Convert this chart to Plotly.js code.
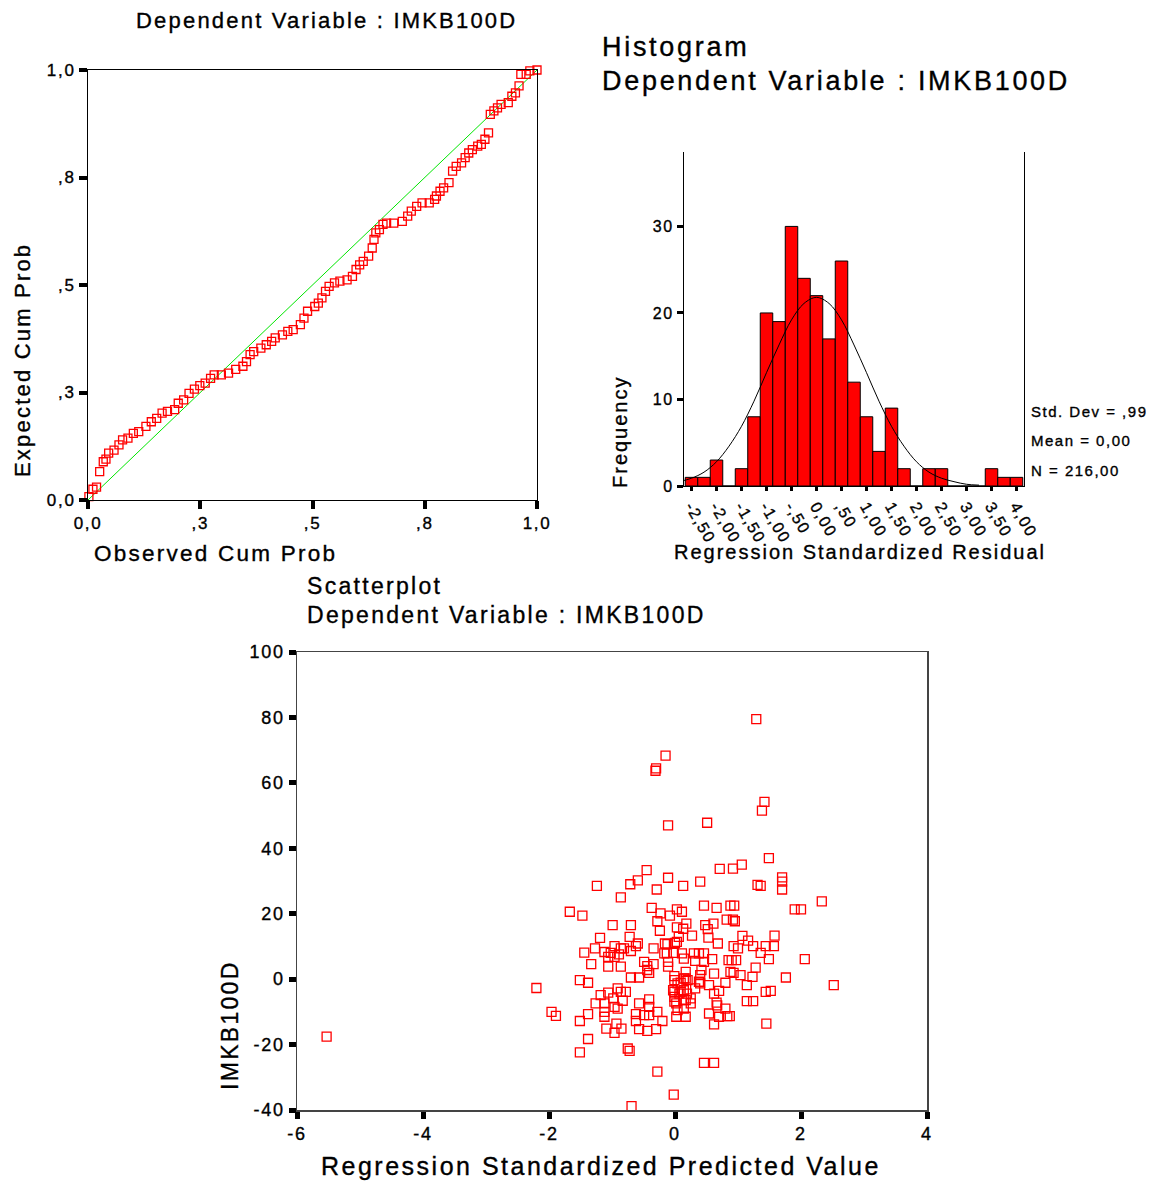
<!DOCTYPE html>
<html><head><meta charset="utf-8">
<script src="https://cdn.plot.ly/plotly-3.0.1.min.js"></script>
<style>
html,body{margin:0;padding:0;background:#fff;}
text{letter-spacing:0.1em; stroke:#000; stroke-width:0.35px;}
</style></head><body>
<div id="chart" style="width:1154px;height:1185px;"></div>
<script>
// ---- Normal P-P plot data ----
const ppObserved = [0.002,0.011,0.019,0.026,0.034,0.040,0.046,0.058,0.069,0.077,0.089,0.101,0.113,0.129,0.141,0.153,0.165,0.177,0.193,0.201,0.213,0.225,0.237,0.249,0.261,0.273,0.281,0.297,0.313,0.329,0.345,0.353,0.361,0.369,0.385,0.397,0.409,0.417,0.433,0.445,0.457,0.473,0.481,0.489,0.505,0.513,0.521,0.529,0.537,0.549,0.561,0.577,0.589,0.597,0.605,0.613,0.625,0.633,0.637,0.641,0.649,0.657,0.665,0.681,0.700,0.712,0.720,0.732,0.744,0.760,0.772,0.776,0.784,0.792,0.804,0.812,0.820,0.832,0.840,0.848,0.856,0.868,0.876,0.884,0.892,0.896,0.904,0.912,0.920,0.936,0.944,0.952,0.960,0.964,0.976,0.984,1.0];
const ppExpected = [0.008,0.025,0.030,0.066,0.089,0.095,0.109,0.116,0.128,0.140,0.144,0.155,0.159,0.171,0.182,0.190,0.202,0.206,0.210,0.225,0.233,0.248,0.258,0.266,0.272,0.283,0.291,0.291,0.295,0.304,0.311,0.322,0.338,0.345,0.353,0.361,0.369,0.377,0.384,0.392,0.396,0.408,0.423,0.439,0.450,0.458,0.470,0.485,0.497,0.505,0.509,0.512,0.520,0.536,0.547,0.555,0.567,0.586,0.606,0.621,0.629,0.641,0.644,0.644,0.648,0.660,0.672,0.683,0.691,0.691,0.699,0.707,0.718,0.726,0.738,0.765,0.776,0.784,0.796,0.807,0.815,0.823,0.827,0.839,0.854,0.897,0.905,0.912,0.920,0.924,0.939,0.947,0.963,0.990,0.990,0.998,1.0];
const diagX = [0, 1];
const diagY = [0, 1];
const ppTickVals = [0, 0.25, 0.5, 0.75, 1];
const ppTickText = ["0,0", ",3", ",5", ",8", "1,0"];

// ---- Histogram data ----
const histCenters = [-2.5,-2.25,-2.0,-1.75,-1.5,-1.25,-1.0,-0.75,-0.5,-0.25,0.0,0.25,0.5,0.75,1.0,1.25,1.5,1.75,2.0,2.25,2.5,2.75,3.0,3.25,3.5,3.75,4.0];
const histCounts  = [1,1,3,0,2,8,20,19,30,24,22,17,26,12,8,4,9,2,0,2,2,0,0,0,2,1,1];
const histTickVals = [-2.5,-2.0,-1.5,-1.0,-0.5,0.0,0.5,1.0,1.5,2.0,2.5,3.0,3.5,4.0];
const histTickText = ["-2,50","-2,00","-1,50","-1,00","-,50","0,00",",50","1,00","1,50","2,00","2,50","3,00","3,50","4,00"];
const histYTicks = [0, 10, 20, 30];
const curveX = [-2.75,-2.5,-2.25,-2.0,-1.75,-1.5,-1.25,-1.0,-0.75,-0.5,-0.25,0.0,0.25,0.5,0.75,1.0,1.25,1.5,1.75,2.0,2.25,2.5,2.75,3.0,3.25];
const curveY = [0.5,0.9,1.6,2.8,4.6,6.9,9.8,13.1,16.3,19.2,21.1,21.8,21.1,19.2,16.3,13.1,9.8,6.9,4.6,2.8,1.6,0.9,0.5,0.2,0.1];
const statLines = ["Std. Dev = ,99", "Mean = 0,00", "N = 216,00"];

// ---- Scatterplot data ----
const predicted = [-5.53,1.29,-0.15,-0.30,-0.31,1.42,1.38,-0.11,0.51,1.49,
 0.71,0.92,1.06,-0.45,-0.59,-0.71,-0.11,-0.29,0.13,0.40,
 1.31,1.36,1.70,1.70,1.70,-0.86,-1.24,2.33,1.90,2.00,
 -1.67,-1.47,-0.37,-0.23,-0.08,0.03,0.11,0.46,0.66,0.88,
 0.94,-0.99,-0.70,-0.28,0.18,0.03,0.13,0.48,0.52,0.61,
 0.82,0.92,0.95,-1.19,-0.72,-0.24,0.27,0.53,1.07,1.16,
 1.58,0.06,0.03,-0.59,-0.62,-1.27,-1.44,-1.12,-1.02,-0.96,
 -0.86,-1.06,-0.96,-0.89,-0.81,-0.70,-0.34,-0.16,-0.12,0.00,
 -0.13,-0.02,0.11,0.14,0.68,0.93,1.00,1.24,1.44,1.57,
 1.36,0.30,0.38,0.46,0.32,0.46,0.59,0.85,0.90,0.97,
 1.49,2.06,-1.33,-1.06,-0.86,-0.49,-0.44,-0.34,-0.11,-0.11,
 1.28,1.23,1.14,1.76,2.52,1.44,1.52,1.14,1.24,1.45,
 0.46,0.62,0.88,0.93,1.04,0.80,0.62,0.62,0.70,0.54,
 0.40,0.32,0.38,0.42,0.40,0.17,0.17,0.09,0.09,0.17,
 0.25,0.25,0.14,0.17,0.54,0.62,0.67,0.70,0.80,0.83,
 0.87,0.66,-2.20,-1.51,-1.38,-0.70,-0.57,-0.41,-0.44,-0.01,
 -0.01,-1.18,-1.06,-0.91,-0.86,-0.78,-1.26,-1.12,-0.98,-0.83,
 -0.96,-0.91,-1.12,-1.12,-0.93,-0.85,-0.96,-1.09,-1.96,-1.89,
 -1.38,-1.51,-1.38,-1.51,-0.57,-0.41,-0.41,-0.62,-0.49,-0.41,
 -0.28,-0.62,-0.57,-0.44,-0.30,-0.20,-0.75,-0.72,-0.28,-0.02,
 -0.69,-0.01,-0.01,-0.01,0.07,0.14,0.14,0.02,0.04,0.19,
 0.14,0.04,-0.03,0.02,-0.17,0.20];
const imkb = [-17.6,79.5,68.3,64.4,63.7,54.2,51.5,47.0,47.8,37.0,
 33.7,33.8,35.0,33.3,30.2,29.0,31.0,27.4,28.5,29.8,
 28.8,28.5,31.1,29.8,27.4,25.0,28.5,23.8,21.3,21.3,
 20.6,19.4,21.8,20.1,19.4,21.3,20.6,22.5,21.8,22.5,
 22.5,16.5,16.5,17.7,17.0,15.8,15.4,16.5,15.3,17.0,
 18.2,18.2,17.7,12.6,12.9,14.8,13.3,12.7,13.2,11.8,
 13.3,12.9,11.4,10.9,10.1,9.4,8.1,8.3,8.0,10.1,
 9.4,6.8,6.8,7.6,9.4,8.6,9.4,10.9,10.7,11.1,
 7.9,8.0,7.9,6.3,10.9,10.1,9.4,10.1,10.1,10.1,
 8.0,7.9,7.9,7.9,5.6,5.3,6.1,5.8,5.8,5.8,
 6.1,6.1,4.6,3.8,3.8,5.3,4.0,4.6,5.3,3.8,
 3.5,0.7,-1.8,0.5,-1.8,-3.9,-3.6,-6.7,-6.7,-13.6,
 -25.6,-25.6,2.2,1.9,1.2,-1.1,1.7,-4.4,-3.6,-1.8,
 -1.3,-2.8,-0.8,2.8,1.2,2.2,0.2,-1.1,-3.9,-6.4,
 -5.9,-7.4,-9.0,-11.5,-10.5,-13.8,-8.0,-11.5,-9.0,-11.3,
 -11.3,-7.2,-2.7,-0.3,-1.1,0.5,0.5,1.9,2.8,0.9,
 -0.3,-4.9,-4.1,-2.8,-3.9,-3.9,-7.4,-7.4,-5.9,-6.6,
 -8.5,-9.0,-10.0,-11.5,-13.6,-15.1,-16.4,-15.1,-10.0,-11.2,
 -10.7,-12.8,-18.3,-22.4,-7.4,-6.2,-8.5,-10.7,-11.0,-11.0,
 -10.0,-12.8,-15.3,-15.8,-15.3,-12.8,-21.2,-21.9,-28.3,-35.3,
 -38.8,-3.9,-5.4,-6.9,-4.4,-3.4,-6.4,-11.5,-9.5,-4.4,
 0.2,-1.3,-3.4,-7.4,7.9,-0.3];
const scatXTicks = [-6, -4, -2, 0, 2, 4];
const scatXTickText = ["-6", "-4", "-2", "0", "2", "4"];
const scatYTicks = [-40, -20, 0, 20, 40, 60, 80, 100];
const scatYTickText = ["-40", "-20", "0", "20", "40", "60", "80", "100"];

// ---- layout helpers (pixel -> paper) ----
const W = 1154, H = 1185;
const fx = p => p / W;
const fy = p => 1 - p / H;
const FONT = "Liberation Sans, Arial, sans-serif";

const traces = [
  {type:'scatter', mode:'lines', x:diagX, y:diagY, xaxis:'x', yaxis:'y',
   line:{color:'#00e600', width:1}, hoverinfo:'skip'},
  {type:'scatter', mode:'markers', x:ppObserved, y:ppExpected, xaxis:'x', yaxis:'y',
   cliponaxis:false,
   marker:{symbol:'square-open', size:8, color:'#ff0000', line:{width:1.3, color:'#ff0000'}}},
  {type:'bar', x:histCenters, y:histCounts, width:0.25, xaxis:'x2', yaxis:'y2',
   marker:{color:'#ff0000', line:{color:'#000', width:1}}},
  {type:'scatter', mode:'lines', x:curveX, y:curveY, xaxis:'x2', yaxis:'y2',
   line:{color:'#000', width:1, shape:'spline'}},
  {type:'scatter', mode:'markers', x:predicted, y:imkb, xaxis:'x3', yaxis:'y3',
   cliponaxis:false,
   marker:{symbol:'square-open', size:9, color:'#ff0000', line:{width:1.3, color:'#ff0000'}}}
];

function axisBase(extra){
  return Object.assign({
    showgrid:false, zeroline:false, showline:true, linecolor:'#000', linewidth:1,
    ticks:'outside', tickcolor:'#000', fixedrange:true,
    tickfont:{family:FONT, color:'#000'}
  }, extra);
}

function ann(text, x, y, size, opts){
  return Object.assign({text:text, xref:'paper', yref:'paper', x:fx(x), y:fy(y),
    showarrow:false, xanchor:'center', yanchor:'middle',
    font:{family:FONT, size:size, color:'#000'}}, opts||{});
}

const layout = {
  width:W, height:H, margin:{l:0,r:0,t:0,b:0},
  paper_bgcolor:'#fff', plot_bgcolor:'#fff', showlegend:false, hovermode:false,
  xaxis: axisBase({domain:[fx(88), fx(537)], anchor:'y', range:[0,1],
    tickvals:ppTickVals, ticktext:ppTickText, ticklen:8, tickwidth:4, mirror:true,
    tickfont:{family:FONT, size:17, color:'#000'}}),
  yaxis: axisBase({domain:[fy(500), fy(70)], anchor:'x', range:[0,1],
    tickvals:ppTickVals, ticktext:ppTickText, ticklen:8, tickwidth:4, mirror:true,
    tickfont:{family:FONT, size:17, color:'#000'}}),
  xaxis2: axisBase({domain:[fx(684), fx(1024)], anchor:'y2', range:[-2.65, 4.15],
    tickvals:histTickVals, ticktext:histTickText, tickangle:60, ticklen:4, tickwidth:3,
    tickfont:{family:FONT, size:16, color:'#000'}}),
  yaxis2: axisBase({domain:[fy(486), fy(152)], anchor:'x2', range:[0, 38.6],
    tickvals:histYTicks, ticklen:6, tickwidth:3, mirror:true,
    tickfont:{family:FONT, size:16, color:'#000'}}),
  xaxis3: axisBase({domain:[fx(297), fx(927)], anchor:'y3', range:[-6, 4],
    tickvals:scatXTicks, ticktext:scatXTickText, ticklen:7, tickwidth:5, mirror:true,
    linecolor:'#444', linewidth:1.5,
    tickfont:{family:FONT, size:18, color:'#000'}}),
  yaxis3: axisBase({domain:[fy(1110), fy(652)], anchor:'x3', range:[-40, 100],
    tickvals:scatYTicks, ticktext:scatYTickText, ticklen:7, tickwidth:5, mirror:true,
    linecolor:'#444', linewidth:1.5,
    tickfont:{family:FONT, size:18, color:'#000'}}),
  annotations: [
    ann('Dependent Variable : IMKB100D', 326, 20, 22),
    ann('Observed Cum Prob', 92, 553, 22.5, {xanchor:'left'}),
    ann('Expected Cum Prob', 22, 360, 22, {textangle:-90}),
    ann('Histogram', 600, 47, 27, {xanchor:'left'}),
    ann('Dependent Variable : IMKB100D', 600, 81, 27, {xanchor:'left'}),
    ann('Frequency', 620, 432, 20, {textangle:-90}),
    ann('Regression Standardized Residual', 860, 552, 20),
    ann(statLines[0], 1029, 412, 15, {xanchor:'left'}),
    ann(statLines[1], 1029, 440, 15, {xanchor:'left'}),
    ann(statLines[2], 1029, 470, 15, {xanchor:'left'}),
    ann('Scatterplot', 305, 586, 23, {xanchor:'left'}),
    ann('Dependent Variable : IMKB100D', 305, 615, 23, {xanchor:'left'}),
    ann('Regression Standardized Predicted Value', 601, 1166, 25),
    ann('IMKB100D', 230, 1025, 23, {textangle:-90})
  ]
};

Plotly.newPlot('chart', traces, layout, {staticPlot:true, displayModeBar:false});
</script>
</body></html>
